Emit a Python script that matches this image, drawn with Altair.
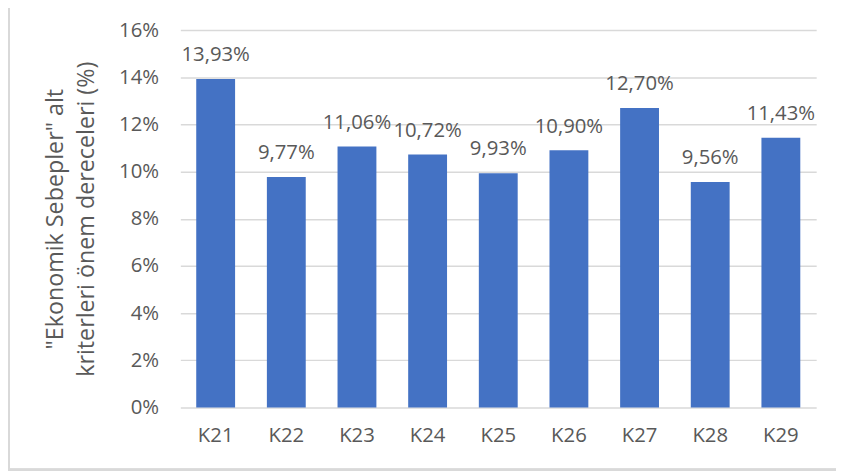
import altair as alt
import pandas as pd

categories = ["K21", "K22", "K23", "K24", "K25", "K26", "K27", "K28", "K29"]
values = [13.93, 9.77, 11.06, 10.72, 9.93, 10.90, 12.70, 9.56, 11.43]
y_ticks = [0, 2, 4, 6, 8, 10, 12, 14, 16]
y_title = ['"Ekonomik Sebepler" alt', "kriterleri önem dereceleri (%)"]

df = pd.DataFrame({
    "cat": categories,
    "val": values,
    "label": [f"{v:.2f}".replace(".", ",") + "%" for v in values],
})

FONT = "Open Sans"
GREY = "#595959"

x = alt.X("cat:N", sort=categories,
          scale=alt.Scale(paddingInner=0.45, paddingOuter=0.225),
          axis=alt.Axis(title=None, labelAngle=0, ticks=False, domain=False,
                        labelPadding=18, labelFontSize=20.5, labelColor=GREY,
                        labelFont=FONT, grid=False))
y = alt.Y("val:Q", scale=alt.Scale(domain=[0, 16], nice=False),
          axis=alt.Axis(values=y_ticks, labelExpr="datum.value + '%'",
                        title=y_title, titleFontSize=23.5, titleColor=GREY,
                        titleFont=FONT, titleFontWeight="normal",
                        titlePadding=20, titleLineHeight=32,
                        labelFontSize=20.5, labelColor=GREY, labelFont=FONT,
                        labelPadding=22, ticks=False, domain=False,
                        grid=True, gridColor="#d9d9d9", gridWidth=1.5))

base = alt.Chart(df)
bars = base.mark_bar(color="#4472C4").encode(x=x, y=y)
labels = base.mark_text(baseline="alphabetic", dy=-18, fontSize=20.5,
                        font=FONT, color=GREY).encode(
    x=alt.X("cat:N", sort=categories), y="val:Q", text="label:N")

border_left = alt.Chart(df).mark_rule(color="#d9d9d9", strokeWidth=2, clip=False).encode(
    x=alt.value(-173), y=alt.value(-40), y2=alt.value(445))
border_bottom = alt.Chart(df).mark_rule(color="#d9d9d9", strokeWidth=2, clip=False).encode(
    x=alt.value(-173), x2=alt.value(700), y=alt.value(444))

chart = alt.layer(bars, labels, border_left, border_bottom).properties(
    width=642, height=381,
    autosize=alt.AutoSizeParams(type="none"),
    padding={"left": 174, "top": 20, "right": 20, "bottom": 70},
).configure_view(stroke=None)

chart.save("out.html", embed_options={"renderer": "svg", "actions": False})
